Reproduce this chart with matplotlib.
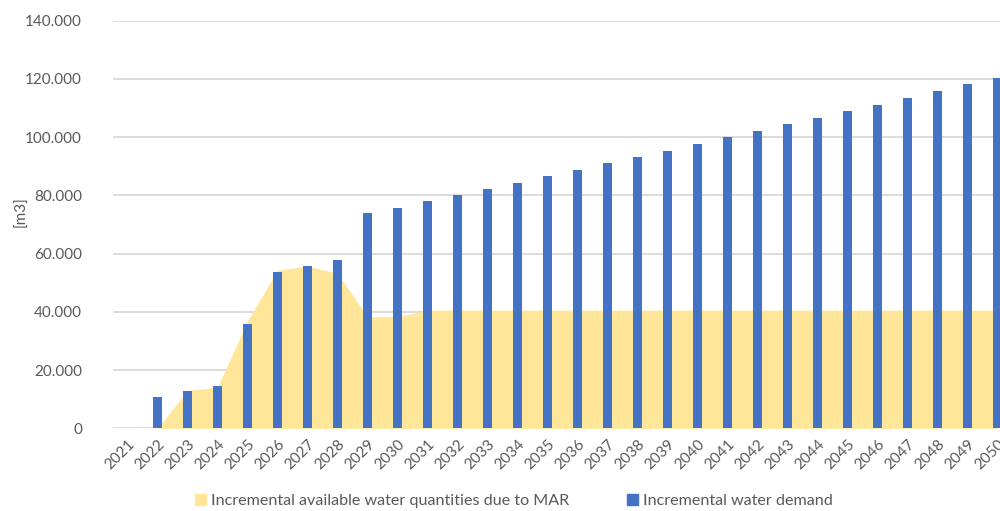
import numpy as np
import matplotlib.pyplot as plt
from matplotlib.ticker import FuncFormatter
from matplotlib.patches import Patch

years = [str(y) for y in range(2021, 2051)]

# incremental water demand [m3]
demand = [0, 10700, 12700, 14400, 36000, 53700, 55800, 57700, 73800, 75800,
          78000, 80100, 82200, 84400, 86700, 88800, 91000, 93200, 95300, 97600,
          99900, 102100, 104400, 106700, 108900, 111200, 113500, 115800, 118100, 120400]

# incremental available water quantities due to MAR [m3]
mar = [0, 0, 13000, 14100, 36900, 54300, 55800, 53200, 38300, 38300,
       40600, 40600, 40600, 40600, 40600, 40600, 40600, 40600, 40600, 40600,
       40600, 40600, 40600, 40600, 40600, 40600, 40600, 40600, 40600, 40600]

plt.rcParams['font.family'] = ['Lato', 'DejaVu Sans']

blue = '#4472C4'
yellow = '#FFE699'
grey = '#595959'

fig = plt.figure(figsize=(10, 5.11), dpi=100)
ax = fig.add_axes([0.1125, 0.1618, 0.90, 0.7977])

x = np.arange(len(years))
ax.fill_between(x, mar, 0, color=yellow, linewidth=0, zorder=2)
ax.bar(x, demand, width=0.31, color=blue, zorder=3)

ax.set_xlim(-0.5, len(years) - 0.5)
ax.set_ylim(0, 140000)
ax.set_yticks(np.arange(0, 140001, 20000))
ax.yaxis.set_major_formatter(FuncFormatter(lambda v, p: f'{int(v):,}'.replace(',', '.')))
ax.grid(axis='y', color='#d9d9d9', linewidth=1.3, zorder=0)
ax.set_axisbelow(True)

ax.set_xticks(x)
ax.set_xticklabels(years, rotation=45, ha='right', rotation_mode='anchor')
ax.tick_params(axis='both', length=0, colors=grey, labelsize=11)
ax.tick_params(axis='y', pad=22)
ax.tick_params(axis='x', pad=6)
for s in ax.spines.values():
    s.set_visible(False)

fig.text(0.021, 0.585, '[m3]', rotation=90, ha='center', va='center',
         color=grey, fontsize=11)

handles = [Patch(color=yellow), Patch(color=blue)]
fig.legend(handles, ['Incremental available water quantities due to MAR',
                     'Incremental water demand'],
           loc='center', bbox_to_anchor=(0.514, 0.02), ncol=2, frameon=False,
           fontsize=11.6, handlelength=0.7, handleheight=0.7, handletextpad=0.3,
           columnspacing=3.6, labelcolor=grey)

fig.savefig('out.png', dpi=100)
